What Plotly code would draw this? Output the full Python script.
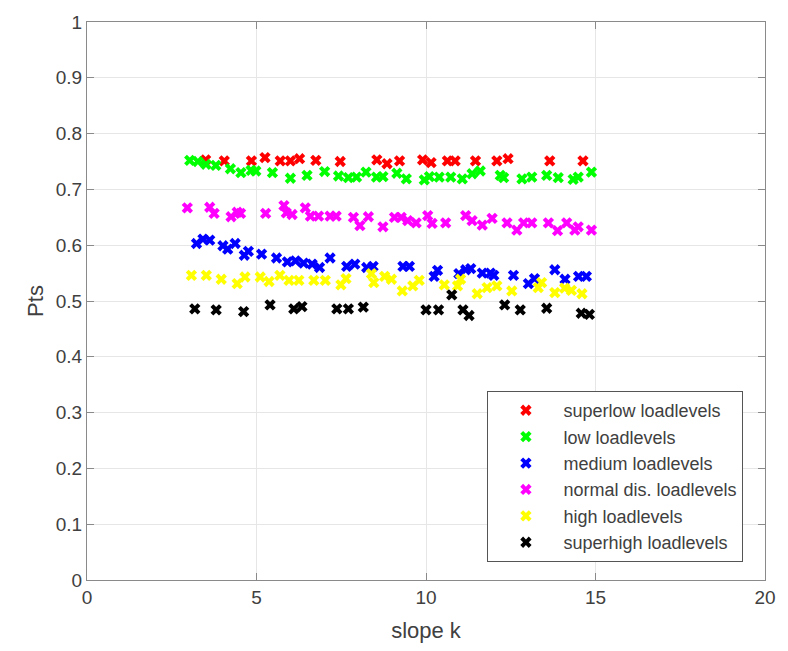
import plotly.graph_objects as go

# ---- data ----
names = ["superlow loadlevels", "low loadlevels", "medium loadlevels",
         "normal dis. loadlevels", "high loadlevels", "superhigh loadlevels"]
colors = ["#ff0000", "#00ff00", "#0000ff", "#ff00ff", "#ffff00", "#000000"]

superlow_k = [3.5, 4.05, 4.85, 5.25, 5.7, 6.0, 6.27, 6.75, 7.47, 8.55, 8.85, 9.22,
              9.9, 10.15, 10.63, 10.86, 11.46, 12.09, 12.42, 13.65, 14.63]
superlow_v = [0.753, 0.751, 0.751, 0.757, 0.751, 0.751, 0.755, 0.752, 0.750, 0.753,
              0.746, 0.751, 0.753, 0.748, 0.751, 0.751, 0.751, 0.751, 0.755, 0.751, 0.751]

low_k = [3.03, 3.27, 3.51, 3.8, 4.23, 4.54, 4.84, 4.98, 5.47, 6.0, 6.49, 7.01, 7.42,
         7.71, 7.95, 8.23, 8.54, 8.73, 9.14, 9.42, 9.95, 10.1, 10.39, 10.73, 11.07,
         11.36, 11.6, 12.19, 12.29, 12.83, 13.12, 13.56, 13.9, 14.34, 14.49, 14.88]
low_v = [0.752, 0.750, 0.745, 0.743, 0.737, 0.730, 0.734, 0.733, 0.730, 0.720, 0.725,
         0.732, 0.724, 0.721, 0.722, 0.731, 0.722, 0.723, 0.729, 0.719, 0.717, 0.723,
         0.722, 0.722, 0.719, 0.728, 0.733, 0.725, 0.721, 0.719, 0.722, 0.725, 0.721,
         0.718, 0.722, 0.731]

medium_k = [3.23, 3.42, 3.62, 4.01, 4.15, 4.37, 4.64, 4.76, 5.15, 5.59, 5.91, 6.15,
            6.39, 6.64, 6.86, 7.17, 7.66, 7.9, 8.25, 8.44, 9.32, 9.51, 10.24, 10.34,
            10.97, 11.17, 11.32, 11.66, 11.9, 12.0, 12.58, 13.02, 13.2, 13.8, 14.1,
            14.5, 14.73]
medium_v = [0.603, 0.611, 0.609, 0.599, 0.593, 0.603, 0.582, 0.589, 0.584, 0.577,
            0.570, 0.572, 0.568, 0.566, 0.560, 0.577, 0.562, 0.566, 0.560, 0.562,
            0.562, 0.562, 0.544, 0.555, 0.549, 0.556, 0.558, 0.550, 0.550, 0.546,
            0.546, 0.531, 0.540, 0.556, 0.539, 0.544, 0.544]

normal_k = [2.96, 3.62, 3.75, 4.25, 4.43, 4.53, 5.27, 5.81, 5.88, 6.05, 6.44, 6.59,
            6.83, 7.17, 7.35, 7.86, 8.05, 8.3, 8.73, 9.07, 9.27, 9.46, 9.71, 10.05,
            10.18, 10.58, 11.17, 11.36, 11.66, 11.95, 12.39, 12.68, 12.88, 13.12,
            13.61, 13.88, 14.15, 14.39, 14.49, 14.88]
normal_v = [0.667, 0.668, 0.657, 0.651, 0.659, 0.657, 0.657, 0.671, 0.658, 0.655,
            0.667, 0.652, 0.652, 0.652, 0.652, 0.650, 0.635, 0.651, 0.633, 0.650,
            0.650, 0.644, 0.640, 0.653, 0.639, 0.640, 0.653, 0.644, 0.636, 0.648,
            0.640, 0.627, 0.640, 0.640, 0.640, 0.626, 0.640, 0.627, 0.633, 0.627]

high_k = [3.08, 3.52, 3.96, 4.43, 4.66, 5.11, 5.37, 5.69, 5.96, 6.25, 6.69, 7.03,
          7.49, 7.64, 8.39, 8.46, 8.78, 8.98, 9.3, 9.61, 9.8, 10.54, 10.93, 11.02,
          11.51, 11.8, 12.09, 12.53, 13.31, 13.41, 13.8, 14.09, 14.29, 14.6]
high_v = [0.546, 0.546, 0.539, 0.531, 0.543, 0.543, 0.535, 0.546, 0.537, 0.537,
          0.537, 0.537, 0.529, 0.540, 0.549, 0.533, 0.544, 0.539, 0.518, 0.527,
          0.537, 0.529, 0.527, 0.539, 0.513, 0.524, 0.527, 0.518, 0.524, 0.533,
          0.515, 0.523, 0.519, 0.513]

superhigh_k = [3.18, 3.81, 4.62, 5.4, 6.1, 6.34, 7.37, 7.71, 8.15, 10.0, 10.37,
               10.76, 11.09, 11.27, 12.32, 12.78, 13.56, 14.58, 14.82]
superhigh_v = [0.486, 0.484, 0.481, 0.493, 0.486, 0.490, 0.486, 0.486, 0.489, 0.484,
               0.484, 0.511, 0.484, 0.474, 0.493, 0.484, 0.487, 0.478, 0.476]

xs = [superlow_k, low_k, medium_k, normal_k, high_k, superhigh_k]
ys = [superlow_v, low_v, medium_v, normal_v, high_v, superhigh_v]

x_ticks = [0, 5, 10, 15, 20]
y_ticks = [0, 0.1, 0.2, 0.3, 0.4, 0.5, 0.6, 0.7, 0.8, 0.9, 1]
y_tick_text = ["0", "0.1", "0.2", "0.3", "0.4", "0.5", "0.6", "0.7", "0.8", "0.9", "1"]

FONT = "Liberation Sans, Arial, sans-serif"
TXT = "#404040"
AX = "#8a8a8a"

fig = go.Figure()
for n, c, x, y in zip(names, colors, xs, ys):
    fig.add_trace(go.Scatter(
        x=x, y=y, mode="markers", name=n,
        marker=dict(symbol="x", size=10, color=c, line=dict(width=0)),
    ))

axis_common = dict(
    showline=True, linecolor=AX, linewidth=1, mirror="ticks",
    ticks="inside", ticklen=7, tickcolor=AX, tickwidth=1,
    showgrid=True, gridcolor="#e6e6e6", gridwidth=1, zeroline=False,
    tickfont=dict(family=FONT, size=19, color=TXT),
)

fig.update_xaxes(range=[0, 20], tickvals=x_ticks, **axis_common,
                 title=dict(text="slope k", font=dict(family=FONT, size=22, color=TXT),
                            standoff=15))
fig.update_yaxes(range=[0, 1], tickvals=y_ticks, ticktext=y_tick_text, **axis_common,
                 title=dict(text="Pts", font=dict(family=FONT, size=22, color=TXT),
                            standoff=6))

fig.update_layout(
    width=788, height=651,
    margin=dict(l=87, r=17, t=13, b=71),
    paper_bgcolor="white", plot_bgcolor="white",
    font=dict(family=FONT, color=TXT),
    showlegend=True,
    legend=dict(
        x=0.5906, y=0.3386, xanchor="left", yanchor="top",
        bgcolor="white", bordercolor="#555555", borderwidth=1,
        font=dict(family=FONT, size=18, color=TXT),
        itemwidth=65,
    ),
)

fig.write_html("out.html")
